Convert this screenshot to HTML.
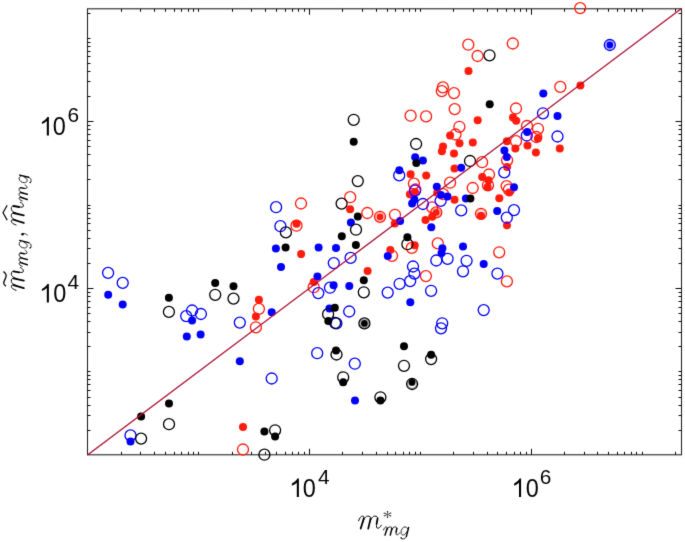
<!DOCTYPE html>
<html><head><meta charset="utf-8">
<style>
html,body{margin:0;padding:0;background:#fff;}
body{width:685px;height:542px;overflow:hidden;}
svg{display:block;}
#wrap{width:685px;height:542px;}
.gl{opacity:0.995;}
.tl{font-family:"Liberation Sans",sans-serif;fill:#000;}
.ml{font-family:"Liberation Serif",serif;font-style:italic;fill:#000;}
</style></head><body>
<div id="wrap">
<svg width="685" height="542" viewBox="0 0 685 542">
<defs><filter id="bl" x="-1%" y="-1%" width="102%" height="102%"><feConvolveMatrix order="3" kernelMatrix="0.0100 0.0800 0.0100 0.0800 0.6400 0.0800 0.0100 0.0800 0.0100" divisor="1" edgeMode="none" preserveAlpha="false"/></filter></defs>
<rect width="685" height="542" fill="#fff"/>
<g filter="url(#bl)">
<g stroke="#262626" stroke-width="1.1" fill="none">
<rect x="87.5" y="8.8" width="594.0" height="446.0"/>
<line x1="121.50" y1="454.8" x2="121.50" y2="451.8" stroke="#111" stroke-width="1"/><line x1="121.50" y1="8.8" x2="121.50" y2="11.8" stroke="#111" stroke-width="1"/><line x1="87.5" y1="430.50" x2="90.5" y2="430.50" stroke="#111" stroke-width="1"/><line x1="681.5" y1="430.50" x2="678.5" y2="430.50" stroke="#111" stroke-width="1"/><line x1="140.50" y1="454.8" x2="140.50" y2="451.8" stroke="#111" stroke-width="1"/><line x1="140.50" y1="8.8" x2="140.50" y2="11.8" stroke="#111" stroke-width="1"/><line x1="87.5" y1="415.50" x2="90.5" y2="415.50" stroke="#111" stroke-width="1"/><line x1="681.5" y1="415.50" x2="678.5" y2="415.50" stroke="#111" stroke-width="1"/><line x1="154.50" y1="454.8" x2="154.50" y2="451.8" stroke="#111" stroke-width="1"/><line x1="154.50" y1="8.8" x2="154.50" y2="11.8" stroke="#111" stroke-width="1"/><line x1="87.5" y1="405.50" x2="90.5" y2="405.50" stroke="#111" stroke-width="1"/><line x1="681.5" y1="405.50" x2="678.5" y2="405.50" stroke="#111" stroke-width="1"/><line x1="165.50" y1="454.8" x2="165.50" y2="451.8" stroke="#111" stroke-width="1"/><line x1="165.50" y1="8.8" x2="165.50" y2="11.8" stroke="#111" stroke-width="1"/><line x1="87.5" y1="397.50" x2="90.5" y2="397.50" stroke="#111" stroke-width="1"/><line x1="681.5" y1="397.50" x2="678.5" y2="397.50" stroke="#111" stroke-width="1"/><line x1="174.50" y1="454.8" x2="174.50" y2="451.8" stroke="#111" stroke-width="1"/><line x1="174.50" y1="8.8" x2="174.50" y2="11.8" stroke="#111" stroke-width="1"/><line x1="87.5" y1="390.50" x2="90.5" y2="390.50" stroke="#111" stroke-width="1"/><line x1="681.5" y1="390.50" x2="678.5" y2="390.50" stroke="#111" stroke-width="1"/><line x1="181.50" y1="454.8" x2="181.50" y2="451.8" stroke="#111" stroke-width="1"/><line x1="181.50" y1="8.8" x2="181.50" y2="11.8" stroke="#111" stroke-width="1"/><line x1="87.5" y1="384.50" x2="90.5" y2="384.50" stroke="#111" stroke-width="1"/><line x1="681.5" y1="384.50" x2="678.5" y2="384.50" stroke="#111" stroke-width="1"/><line x1="188.50" y1="454.8" x2="188.50" y2="451.8" stroke="#111" stroke-width="1"/><line x1="188.50" y1="8.8" x2="188.50" y2="11.8" stroke="#111" stroke-width="1"/><line x1="87.5" y1="379.50" x2="90.5" y2="379.50" stroke="#111" stroke-width="1"/><line x1="681.5" y1="379.50" x2="678.5" y2="379.50" stroke="#111" stroke-width="1"/><line x1="193.50" y1="454.8" x2="193.50" y2="451.8" stroke="#111" stroke-width="1"/><line x1="193.50" y1="8.8" x2="193.50" y2="11.8" stroke="#111" stroke-width="1"/><line x1="87.5" y1="375.50" x2="90.5" y2="375.50" stroke="#111" stroke-width="1"/><line x1="681.5" y1="375.50" x2="678.5" y2="375.50" stroke="#111" stroke-width="1"/><line x1="198.50" y1="454.8" x2="198.50" y2="451.8" stroke="#111" stroke-width="1"/><line x1="198.50" y1="8.8" x2="198.50" y2="11.8" stroke="#111" stroke-width="1"/><line x1="87.5" y1="371.50" x2="90.5" y2="371.50" stroke="#111" stroke-width="1"/><line x1="681.5" y1="371.50" x2="678.5" y2="371.50" stroke="#111" stroke-width="1"/><line x1="232.50" y1="454.8" x2="232.50" y2="451.8" stroke="#111" stroke-width="1"/><line x1="232.50" y1="8.8" x2="232.50" y2="11.8" stroke="#111" stroke-width="1"/><line x1="87.5" y1="346.50" x2="90.5" y2="346.50" stroke="#111" stroke-width="1"/><line x1="681.5" y1="346.50" x2="678.5" y2="346.50" stroke="#111" stroke-width="1"/><line x1="251.50" y1="454.8" x2="251.50" y2="451.8" stroke="#111" stroke-width="1"/><line x1="251.50" y1="8.8" x2="251.50" y2="11.8" stroke="#111" stroke-width="1"/><line x1="87.5" y1="332.50" x2="90.5" y2="332.50" stroke="#111" stroke-width="1"/><line x1="681.5" y1="332.50" x2="678.5" y2="332.50" stroke="#111" stroke-width="1"/><line x1="265.50" y1="454.8" x2="265.50" y2="451.8" stroke="#111" stroke-width="1"/><line x1="265.50" y1="8.8" x2="265.50" y2="11.8" stroke="#111" stroke-width="1"/><line x1="87.5" y1="321.50" x2="90.5" y2="321.50" stroke="#111" stroke-width="1"/><line x1="681.5" y1="321.50" x2="678.5" y2="321.50" stroke="#111" stroke-width="1"/><line x1="276.50" y1="454.8" x2="276.50" y2="451.8" stroke="#111" stroke-width="1"/><line x1="276.50" y1="8.8" x2="276.50" y2="11.8" stroke="#111" stroke-width="1"/><line x1="87.5" y1="313.50" x2="90.5" y2="313.50" stroke="#111" stroke-width="1"/><line x1="681.5" y1="313.50" x2="678.5" y2="313.50" stroke="#111" stroke-width="1"/><line x1="285.50" y1="454.8" x2="285.50" y2="451.8" stroke="#111" stroke-width="1"/><line x1="285.50" y1="8.8" x2="285.50" y2="11.8" stroke="#111" stroke-width="1"/><line x1="87.5" y1="307.50" x2="90.5" y2="307.50" stroke="#111" stroke-width="1"/><line x1="681.5" y1="307.50" x2="678.5" y2="307.50" stroke="#111" stroke-width="1"/><line x1="292.50" y1="454.8" x2="292.50" y2="451.8" stroke="#111" stroke-width="1"/><line x1="292.50" y1="8.8" x2="292.50" y2="11.8" stroke="#111" stroke-width="1"/><line x1="87.5" y1="301.50" x2="90.5" y2="301.50" stroke="#111" stroke-width="1"/><line x1="681.5" y1="301.50" x2="678.5" y2="301.50" stroke="#111" stroke-width="1"/><line x1="298.50" y1="454.8" x2="298.50" y2="451.8" stroke="#111" stroke-width="1"/><line x1="298.50" y1="8.8" x2="298.50" y2="11.8" stroke="#111" stroke-width="1"/><line x1="87.5" y1="296.50" x2="90.5" y2="296.50" stroke="#111" stroke-width="1"/><line x1="681.5" y1="296.50" x2="678.5" y2="296.50" stroke="#111" stroke-width="1"/><line x1="304.50" y1="454.8" x2="304.50" y2="451.8" stroke="#111" stroke-width="1"/><line x1="304.50" y1="8.8" x2="304.50" y2="11.8" stroke="#111" stroke-width="1"/><line x1="87.5" y1="292.50" x2="90.5" y2="292.50" stroke="#111" stroke-width="1"/><line x1="681.5" y1="292.50" x2="678.5" y2="292.50" stroke="#111" stroke-width="1"/><line x1="309.50" y1="454.8" x2="309.50" y2="448.8" stroke="#111" stroke-width="1"/><line x1="309.50" y1="8.8" x2="309.50" y2="14.8" stroke="#111" stroke-width="1"/><line x1="87.5" y1="288.50" x2="93.5" y2="288.50" stroke="#111" stroke-width="1"/><line x1="681.5" y1="288.50" x2="675.5" y2="288.50" stroke="#111" stroke-width="1"/><line x1="342.50" y1="454.8" x2="342.50" y2="451.8" stroke="#111" stroke-width="1"/><line x1="342.50" y1="8.8" x2="342.50" y2="11.8" stroke="#111" stroke-width="1"/><line x1="87.5" y1="263.50" x2="90.5" y2="263.50" stroke="#111" stroke-width="1"/><line x1="681.5" y1="263.50" x2="678.5" y2="263.50" stroke="#111" stroke-width="1"/><line x1="362.50" y1="454.8" x2="362.50" y2="451.8" stroke="#111" stroke-width="1"/><line x1="362.50" y1="8.8" x2="362.50" y2="11.8" stroke="#111" stroke-width="1"/><line x1="87.5" y1="248.50" x2="90.5" y2="248.50" stroke="#111" stroke-width="1"/><line x1="681.5" y1="248.50" x2="678.5" y2="248.50" stroke="#111" stroke-width="1"/><line x1="376.50" y1="454.8" x2="376.50" y2="451.8" stroke="#111" stroke-width="1"/><line x1="376.50" y1="8.8" x2="376.50" y2="11.8" stroke="#111" stroke-width="1"/><line x1="87.5" y1="238.50" x2="90.5" y2="238.50" stroke="#111" stroke-width="1"/><line x1="681.5" y1="238.50" x2="678.5" y2="238.50" stroke="#111" stroke-width="1"/><line x1="387.50" y1="454.8" x2="387.50" y2="451.8" stroke="#111" stroke-width="1"/><line x1="387.50" y1="8.8" x2="387.50" y2="11.8" stroke="#111" stroke-width="1"/><line x1="87.5" y1="230.50" x2="90.5" y2="230.50" stroke="#111" stroke-width="1"/><line x1="681.5" y1="230.50" x2="678.5" y2="230.50" stroke="#111" stroke-width="1"/><line x1="395.50" y1="454.8" x2="395.50" y2="451.8" stroke="#111" stroke-width="1"/><line x1="395.50" y1="8.8" x2="395.50" y2="11.8" stroke="#111" stroke-width="1"/><line x1="87.5" y1="223.50" x2="90.5" y2="223.50" stroke="#111" stroke-width="1"/><line x1="681.5" y1="223.50" x2="678.5" y2="223.50" stroke="#111" stroke-width="1"/><line x1="403.50" y1="454.8" x2="403.50" y2="451.8" stroke="#111" stroke-width="1"/><line x1="403.50" y1="8.8" x2="403.50" y2="11.8" stroke="#111" stroke-width="1"/><line x1="87.5" y1="218.50" x2="90.5" y2="218.50" stroke="#111" stroke-width="1"/><line x1="681.5" y1="218.50" x2="678.5" y2="218.50" stroke="#111" stroke-width="1"/><line x1="409.50" y1="454.8" x2="409.50" y2="451.8" stroke="#111" stroke-width="1"/><line x1="409.50" y1="8.8" x2="409.50" y2="11.8" stroke="#111" stroke-width="1"/><line x1="87.5" y1="213.50" x2="90.5" y2="213.50" stroke="#111" stroke-width="1"/><line x1="681.5" y1="213.50" x2="678.5" y2="213.50" stroke="#111" stroke-width="1"/><line x1="415.50" y1="454.8" x2="415.50" y2="451.8" stroke="#111" stroke-width="1"/><line x1="415.50" y1="8.8" x2="415.50" y2="11.8" stroke="#111" stroke-width="1"/><line x1="87.5" y1="208.50" x2="90.5" y2="208.50" stroke="#111" stroke-width="1"/><line x1="681.5" y1="208.50" x2="678.5" y2="208.50" stroke="#111" stroke-width="1"/><line x1="420.50" y1="454.8" x2="420.50" y2="451.8" stroke="#111" stroke-width="1"/><line x1="420.50" y1="8.8" x2="420.50" y2="11.8" stroke="#111" stroke-width="1"/><line x1="87.5" y1="205.50" x2="90.5" y2="205.50" stroke="#111" stroke-width="1"/><line x1="681.5" y1="205.50" x2="678.5" y2="205.50" stroke="#111" stroke-width="1"/><line x1="453.50" y1="454.8" x2="453.50" y2="451.8" stroke="#111" stroke-width="1"/><line x1="453.50" y1="8.8" x2="453.50" y2="11.8" stroke="#111" stroke-width="1"/><line x1="87.5" y1="179.50" x2="90.5" y2="179.50" stroke="#111" stroke-width="1"/><line x1="681.5" y1="179.50" x2="678.5" y2="179.50" stroke="#111" stroke-width="1"/><line x1="473.50" y1="454.8" x2="473.50" y2="451.8" stroke="#111" stroke-width="1"/><line x1="473.50" y1="8.8" x2="473.50" y2="11.8" stroke="#111" stroke-width="1"/><line x1="87.5" y1="165.50" x2="90.5" y2="165.50" stroke="#111" stroke-width="1"/><line x1="681.5" y1="165.50" x2="678.5" y2="165.50" stroke="#111" stroke-width="1"/><line x1="487.50" y1="454.8" x2="487.50" y2="451.8" stroke="#111" stroke-width="1"/><line x1="487.50" y1="8.8" x2="487.50" y2="11.8" stroke="#111" stroke-width="1"/><line x1="87.5" y1="154.50" x2="90.5" y2="154.50" stroke="#111" stroke-width="1"/><line x1="681.5" y1="154.50" x2="678.5" y2="154.50" stroke="#111" stroke-width="1"/><line x1="497.50" y1="454.8" x2="497.50" y2="451.8" stroke="#111" stroke-width="1"/><line x1="497.50" y1="8.8" x2="497.50" y2="11.8" stroke="#111" stroke-width="1"/><line x1="87.5" y1="146.50" x2="90.5" y2="146.50" stroke="#111" stroke-width="1"/><line x1="681.5" y1="146.50" x2="678.5" y2="146.50" stroke="#111" stroke-width="1"/><line x1="506.50" y1="454.8" x2="506.50" y2="451.8" stroke="#111" stroke-width="1"/><line x1="506.50" y1="8.8" x2="506.50" y2="11.8" stroke="#111" stroke-width="1"/><line x1="87.5" y1="140.50" x2="90.5" y2="140.50" stroke="#111" stroke-width="1"/><line x1="681.5" y1="140.50" x2="678.5" y2="140.50" stroke="#111" stroke-width="1"/><line x1="514.50" y1="454.8" x2="514.50" y2="451.8" stroke="#111" stroke-width="1"/><line x1="514.50" y1="8.8" x2="514.50" y2="11.8" stroke="#111" stroke-width="1"/><line x1="87.5" y1="134.50" x2="90.5" y2="134.50" stroke="#111" stroke-width="1"/><line x1="681.5" y1="134.50" x2="678.5" y2="134.50" stroke="#111" stroke-width="1"/><line x1="520.50" y1="454.8" x2="520.50" y2="451.8" stroke="#111" stroke-width="1"/><line x1="520.50" y1="8.8" x2="520.50" y2="11.8" stroke="#111" stroke-width="1"/><line x1="87.5" y1="129.50" x2="90.5" y2="129.50" stroke="#111" stroke-width="1"/><line x1="681.5" y1="129.50" x2="678.5" y2="129.50" stroke="#111" stroke-width="1"/><line x1="526.50" y1="454.8" x2="526.50" y2="451.8" stroke="#111" stroke-width="1"/><line x1="526.50" y1="8.8" x2="526.50" y2="11.8" stroke="#111" stroke-width="1"/><line x1="87.5" y1="125.50" x2="90.5" y2="125.50" stroke="#111" stroke-width="1"/><line x1="681.5" y1="125.50" x2="678.5" y2="125.50" stroke="#111" stroke-width="1"/><line x1="531.50" y1="454.8" x2="531.50" y2="448.8" stroke="#111" stroke-width="1"/><line x1="531.50" y1="8.8" x2="531.50" y2="14.8" stroke="#111" stroke-width="1"/><line x1="87.5" y1="121.50" x2="93.5" y2="121.50" stroke="#111" stroke-width="1"/><line x1="681.5" y1="121.50" x2="675.5" y2="121.50" stroke="#111" stroke-width="1"/><line x1="564.50" y1="454.8" x2="564.50" y2="451.8" stroke="#111" stroke-width="1"/><line x1="564.50" y1="8.8" x2="564.50" y2="11.8" stroke="#111" stroke-width="1"/><line x1="87.5" y1="96.50" x2="90.5" y2="96.50" stroke="#111" stroke-width="1"/><line x1="681.5" y1="96.50" x2="678.5" y2="96.50" stroke="#111" stroke-width="1"/><line x1="584.50" y1="454.8" x2="584.50" y2="451.8" stroke="#111" stroke-width="1"/><line x1="584.50" y1="8.8" x2="584.50" y2="11.8" stroke="#111" stroke-width="1"/><line x1="87.5" y1="81.50" x2="90.5" y2="81.50" stroke="#111" stroke-width="1"/><line x1="681.5" y1="81.50" x2="678.5" y2="81.50" stroke="#111" stroke-width="1"/><line x1="597.50" y1="454.8" x2="597.50" y2="451.8" stroke="#111" stroke-width="1"/><line x1="597.50" y1="8.8" x2="597.50" y2="11.8" stroke="#111" stroke-width="1"/><line x1="87.5" y1="71.50" x2="90.5" y2="71.50" stroke="#111" stroke-width="1"/><line x1="681.5" y1="71.50" x2="678.5" y2="71.50" stroke="#111" stroke-width="1"/><line x1="608.50" y1="454.8" x2="608.50" y2="451.8" stroke="#111" stroke-width="1"/><line x1="608.50" y1="8.8" x2="608.50" y2="11.8" stroke="#111" stroke-width="1"/><line x1="87.5" y1="63.50" x2="90.5" y2="63.50" stroke="#111" stroke-width="1"/><line x1="681.5" y1="63.50" x2="678.5" y2="63.50" stroke="#111" stroke-width="1"/><line x1="617.50" y1="454.8" x2="617.50" y2="451.8" stroke="#111" stroke-width="1"/><line x1="617.50" y1="8.8" x2="617.50" y2="11.8" stroke="#111" stroke-width="1"/><line x1="87.5" y1="56.50" x2="90.5" y2="56.50" stroke="#111" stroke-width="1"/><line x1="681.5" y1="56.50" x2="678.5" y2="56.50" stroke="#111" stroke-width="1"/><line x1="624.50" y1="454.8" x2="624.50" y2="451.8" stroke="#111" stroke-width="1"/><line x1="624.50" y1="8.8" x2="624.50" y2="11.8" stroke="#111" stroke-width="1"/><line x1="87.5" y1="51.50" x2="90.5" y2="51.50" stroke="#111" stroke-width="1"/><line x1="681.5" y1="51.50" x2="678.5" y2="51.50" stroke="#111" stroke-width="1"/><line x1="631.50" y1="454.8" x2="631.50" y2="451.8" stroke="#111" stroke-width="1"/><line x1="631.50" y1="8.8" x2="631.50" y2="11.8" stroke="#111" stroke-width="1"/><line x1="87.5" y1="46.50" x2="90.5" y2="46.50" stroke="#111" stroke-width="1"/><line x1="681.5" y1="46.50" x2="678.5" y2="46.50" stroke="#111" stroke-width="1"/><line x1="636.50" y1="454.8" x2="636.50" y2="451.8" stroke="#111" stroke-width="1"/><line x1="636.50" y1="8.8" x2="636.50" y2="11.8" stroke="#111" stroke-width="1"/><line x1="87.5" y1="42.50" x2="90.5" y2="42.50" stroke="#111" stroke-width="1"/><line x1="681.5" y1="42.50" x2="678.5" y2="42.50" stroke="#111" stroke-width="1"/><line x1="642.50" y1="454.8" x2="642.50" y2="451.8" stroke="#111" stroke-width="1"/><line x1="642.50" y1="8.8" x2="642.50" y2="11.8" stroke="#111" stroke-width="1"/><line x1="87.5" y1="38.50" x2="90.5" y2="38.50" stroke="#111" stroke-width="1"/><line x1="681.5" y1="38.50" x2="678.5" y2="38.50" stroke="#111" stroke-width="1"/><line x1="675.50" y1="454.8" x2="675.50" y2="451.8" stroke="#111" stroke-width="1"/><line x1="675.50" y1="8.8" x2="675.50" y2="11.8" stroke="#111" stroke-width="1"/><line x1="87.5" y1="13.50" x2="90.5" y2="13.50" stroke="#111" stroke-width="1"/><line x1="681.5" y1="13.50" x2="678.5" y2="13.50" stroke="#111" stroke-width="1"/>
</g>
<g>
<circle cx="468.3" cy="44.7" r="5.5" fill="none" stroke="#ff1a0a" stroke-width="1.3"/>
<circle cx="477.6" cy="56.0" r="5.5" fill="none" stroke="#ff1a0a" stroke-width="1.3"/>
<circle cx="580.2" cy="8.1" r="5.5" fill="none" stroke="#ff1a0a" stroke-width="1.3"/>
<circle cx="512.8" cy="43.5" r="5.5" fill="none" stroke="#ff1a0a" stroke-width="1.3"/>
<circle cx="442.9" cy="87.4" r="5.5" fill="none" stroke="#ff1a0a" stroke-width="1.3"/>
<circle cx="441.8" cy="91.1" r="5.5" fill="none" stroke="#ff1a0a" stroke-width="1.3"/>
<circle cx="454.0" cy="93.1" r="5.5" fill="none" stroke="#ff1a0a" stroke-width="1.3"/>
<circle cx="454.7" cy="109.1" r="5.5" fill="none" stroke="#ff1a0a" stroke-width="1.3"/>
<circle cx="410.6" cy="115.7" r="5.5" fill="none" stroke="#ff1a0a" stroke-width="1.3"/>
<circle cx="426.1" cy="116.4" r="5.5" fill="none" stroke="#ff1a0a" stroke-width="1.3"/>
<circle cx="459.4" cy="126.8" r="5.5" fill="none" stroke="#ff1a0a" stroke-width="1.3"/>
<circle cx="455.5" cy="134.5" r="5.5" fill="none" stroke="#ff1a0a" stroke-width="1.3"/>
<circle cx="560.3" cy="86.9" r="5.5" fill="none" stroke="#ff1a0a" stroke-width="1.3"/>
<circle cx="516.0" cy="108.5" r="5.5" fill="none" stroke="#ff1a0a" stroke-width="1.3"/>
<circle cx="527.0" cy="126.0" r="5.5" fill="none" stroke="#ff1a0a" stroke-width="1.3"/>
<circle cx="538.0" cy="128.8" r="5.5" fill="none" stroke="#ff1a0a" stroke-width="1.3"/>
<circle cx="536.3" cy="137.0" r="5.5" fill="none" stroke="#ff1a0a" stroke-width="1.3"/>
<circle cx="516.0" cy="141.2" r="5.5" fill="none" stroke="#ff1a0a" stroke-width="1.3"/>
<circle cx="482.1" cy="162.2" r="5.5" fill="none" stroke="#ff1a0a" stroke-width="1.3"/>
<circle cx="413.9" cy="183.6" r="5.5" fill="none" stroke="#ff1a0a" stroke-width="1.3"/>
<circle cx="415.4" cy="189.5" r="5.5" fill="none" stroke="#ff1a0a" stroke-width="1.3"/>
<circle cx="450.1" cy="182.7" r="5.5" fill="none" stroke="#ff1a0a" stroke-width="1.3"/>
<circle cx="443.1" cy="194.2" r="5.5" fill="none" stroke="#ff1a0a" stroke-width="1.3"/>
<circle cx="472.7" cy="188.0" r="5.5" fill="none" stroke="#ff1a0a" stroke-width="1.3"/>
<circle cx="432.2" cy="207.4" r="5.5" fill="none" stroke="#ff1a0a" stroke-width="1.3"/>
<circle cx="507.1" cy="160.3" r="5.5" fill="none" stroke="#ff1a0a" stroke-width="1.3"/>
<circle cx="489.0" cy="174.5" r="5.5" fill="none" stroke="#ff1a0a" stroke-width="1.3"/>
<circle cx="488.0" cy="185.3" r="5.5" fill="none" stroke="#ff1a0a" stroke-width="1.3"/>
<circle cx="506.6" cy="186.1" r="5.5" fill="none" stroke="#ff1a0a" stroke-width="1.3"/>
<circle cx="508.9" cy="189.6" r="5.5" fill="none" stroke="#ff1a0a" stroke-width="1.3"/>
<circle cx="481.0" cy="213.8" r="5.5" fill="none" stroke="#ff1a0a" stroke-width="1.3"/>
<circle cx="481.0" cy="213.8" r="4.3" fill="none" stroke="#ff1a0a" stroke-width="0.6" stroke-opacity="0.7"/>
<circle cx="350.2" cy="197.2" r="5.5" fill="none" stroke="#ff1a0a" stroke-width="1.3"/>
<circle cx="367.3" cy="213.0" r="5.5" fill="none" stroke="#ff1a0a" stroke-width="1.3"/>
<circle cx="301.0" cy="203.5" r="5.5" fill="none" stroke="#ff1a0a" stroke-width="1.3"/>
<circle cx="296.5" cy="225.7" r="5.5" fill="none" stroke="#ff1a0a" stroke-width="1.3"/>
<circle cx="395.0" cy="214.8" r="5.5" fill="none" stroke="#ff1a0a" stroke-width="1.3"/>
<circle cx="258.9" cy="308.9" r="5.5" fill="none" stroke="#ff1a0a" stroke-width="1.3"/>
<circle cx="255.9" cy="327.3" r="5.5" fill="none" stroke="#ff1a0a" stroke-width="1.3"/>
<circle cx="313.7" cy="287.2" r="5.5" fill="none" stroke="#ff1a0a" stroke-width="1.3"/>
<circle cx="392.0" cy="255.8" r="5.5" fill="none" stroke="#ff1a0a" stroke-width="1.3"/>
<circle cx="411.8" cy="247.9" r="5.5" fill="none" stroke="#ff1a0a" stroke-width="1.3"/>
<circle cx="437.8" cy="243.4" r="5.5" fill="none" stroke="#ff1a0a" stroke-width="1.3"/>
<circle cx="425.9" cy="276.1" r="5.5" fill="none" stroke="#ff1a0a" stroke-width="1.3"/>
<circle cx="499.2" cy="252.3" r="5.5" fill="none" stroke="#ff1a0a" stroke-width="1.3"/>
<circle cx="506.9" cy="281.4" r="5.5" fill="none" stroke="#ff1a0a" stroke-width="1.3"/>
<circle cx="243.0" cy="449.5" r="5.5" fill="none" stroke="#ff1a0a" stroke-width="1.3"/>
<circle cx="468.5" cy="71.1" r="4.0" fill="#ff1a0a"/>
<circle cx="477.7" cy="120.3" r="4.0" fill="#ff1a0a"/>
<circle cx="450.1" cy="135.4" r="4.0" fill="#ff1a0a"/>
<circle cx="459.5" cy="143.3" r="4.0" fill="#ff1a0a"/>
<circle cx="472.8" cy="142.5" r="4.0" fill="#ff1a0a"/>
<circle cx="443.0" cy="146.5" r="4.0" fill="#ff1a0a"/>
<circle cx="441.9" cy="151.3" r="4.0" fill="#ff1a0a"/>
<circle cx="454.0" cy="153.6" r="4.0" fill="#ff1a0a"/>
<circle cx="580.4" cy="85.6" r="4.0" fill="#ff1a0a"/>
<circle cx="513.0" cy="117.4" r="4.0" fill="#ff1a0a"/>
<circle cx="516.2" cy="120.7" r="4.0" fill="#ff1a0a"/>
<circle cx="537.9" cy="138.4" r="4.0" fill="#ff1a0a"/>
<circle cx="506.9" cy="141.2" r="4.0" fill="#ff1a0a"/>
<circle cx="515.4" cy="148.6" r="4.0" fill="#ff1a0a"/>
<circle cx="527.5" cy="145.5" r="4.0" fill="#ff1a0a"/>
<circle cx="535.9" cy="152.6" r="4.0" fill="#ff1a0a"/>
<circle cx="559.8" cy="148.4" r="4.0" fill="#ff1a0a"/>
<circle cx="410.6" cy="174.2" r="4.0" fill="#ff1a0a"/>
<circle cx="426.2" cy="175.4" r="4.0" fill="#ff1a0a"/>
<circle cx="454.5" cy="168.4" r="4.0" fill="#ff1a0a"/>
<circle cx="415.0" cy="192.1" r="4.0" fill="#ff1a0a"/>
<circle cx="409.9" cy="194.3" r="4.0" fill="#ff1a0a"/>
<circle cx="437.2" cy="192.7" r="4.0" fill="#ff1a0a"/>
<circle cx="454.5" cy="199.7" r="4.0" fill="#ff1a0a"/>
<circle cx="436.3" cy="212.4" r="5.5" fill="none" stroke="#ff1a0a" stroke-width="1.3"/><circle cx="436.3" cy="212.4" r="4.3" fill="none" stroke="#ff1a0a" stroke-width="0.6" stroke-opacity="0.7"/><circle cx="436.3" cy="212.4" r="3.4" fill="#ff1a0a"/>
<circle cx="432.2" cy="216.8" r="4.0" fill="#ff1a0a"/>
<circle cx="425.5" cy="220.1" r="4.0" fill="#ff1a0a"/>
<circle cx="507.1" cy="166.9" r="4.0" fill="#ff1a0a"/>
<circle cx="482.2" cy="177.0" r="4.0" fill="#ff1a0a"/>
<circle cx="488.6" cy="180.3" r="4.0" fill="#ff1a0a"/>
<circle cx="487.6" cy="187.0" r="4.0" fill="#ff1a0a"/>
<circle cx="509.3" cy="192.6" r="4.0" fill="#ff1a0a"/>
<circle cx="499.3" cy="198.2" r="4.0" fill="#ff1a0a"/>
<circle cx="507.0" cy="225.2" r="4.0" fill="#ff1a0a"/>
<circle cx="481.0" cy="215.7" r="4.0" fill="#ff1a0a"/>
<circle cx="350.1" cy="209.2" r="4.0" fill="#ff1a0a"/>
<circle cx="380.0" cy="216.8" r="5.5" fill="none" stroke="#ff1a0a" stroke-width="1.3"/><circle cx="380.0" cy="216.8" r="4.3" fill="none" stroke="#ff1a0a" stroke-width="0.6" stroke-opacity="0.7"/><circle cx="380.0" cy="216.8" r="3.4" fill="#ff1a0a"/>
<circle cx="296.5" cy="223.8" r="4.0" fill="#ff1a0a"/>
<circle cx="394.8" cy="223.6" r="4.0" fill="#ff1a0a"/>
<circle cx="258.9" cy="299.8" r="4.0" fill="#ff1a0a"/>
<circle cx="255.9" cy="316.4" r="4.0" fill="#ff1a0a"/>
<circle cx="301.1" cy="254.1" r="4.0" fill="#ff1a0a"/>
<circle cx="367.6" cy="271.1" r="4.0" fill="#ff1a0a"/>
<circle cx="313.7" cy="281.9" r="4.0" fill="#ff1a0a"/>
<circle cx="390.3" cy="250.0" r="4.0" fill="#ff1a0a"/>
<circle cx="414.7" cy="245.2" r="4.0" fill="#ff1a0a"/>
<circle cx="243.0" cy="427.1" r="4.0" fill="#ff1a0a"/>
<circle cx="543.0" cy="113.3" r="5.5" fill="none" stroke="#0000fa" stroke-width="1.3"/>
<circle cx="526.8" cy="135.5" r="5.5" fill="none" stroke="#0000fa" stroke-width="1.3"/>
<circle cx="557.5" cy="136.5" r="5.5" fill="none" stroke="#0000fa" stroke-width="1.3"/>
<circle cx="399.2" cy="175.4" r="5.5" fill="none" stroke="#0000fa" stroke-width="1.3"/>
<circle cx="415.0" cy="190.6" r="5.5" fill="none" stroke="#0000fa" stroke-width="1.3"/>
<circle cx="422.9" cy="204.0" r="5.5" fill="none" stroke="#0000fa" stroke-width="1.3"/>
<circle cx="440.6" cy="200.9" r="5.5" fill="none" stroke="#0000fa" stroke-width="1.3"/>
<circle cx="461.2" cy="210.4" r="5.5" fill="none" stroke="#0000fa" stroke-width="1.3"/>
<circle cx="504.3" cy="172.4" r="5.5" fill="none" stroke="#0000fa" stroke-width="1.3"/>
<circle cx="514.0" cy="210.1" r="5.5" fill="none" stroke="#0000fa" stroke-width="1.3"/>
<circle cx="506.8" cy="217.7" r="5.5" fill="none" stroke="#0000fa" stroke-width="1.3"/>
<circle cx="276.1" cy="207.2" r="5.5" fill="none" stroke="#0000fa" stroke-width="1.3"/>
<circle cx="280.4" cy="226.2" r="5.5" fill="none" stroke="#0000fa" stroke-width="1.3"/>
<circle cx="108.1" cy="272.9" r="5.5" fill="none" stroke="#0000fa" stroke-width="1.3"/>
<circle cx="122.7" cy="282.9" r="5.5" fill="none" stroke="#0000fa" stroke-width="1.3"/>
<circle cx="192.1" cy="310.5" r="5.5" fill="none" stroke="#0000fa" stroke-width="1.3"/>
<circle cx="200.9" cy="314.0" r="5.5" fill="none" stroke="#0000fa" stroke-width="1.3"/>
<circle cx="186.2" cy="316.1" r="5.5" fill="none" stroke="#0000fa" stroke-width="1.3"/>
<circle cx="239.8" cy="322.6" r="5.5" fill="none" stroke="#0000fa" stroke-width="1.3"/>
<circle cx="333.8" cy="263.1" r="5.5" fill="none" stroke="#0000fa" stroke-width="1.3"/>
<circle cx="350.6" cy="257.9" r="5.5" fill="none" stroke="#0000fa" stroke-width="1.3"/>
<circle cx="318.3" cy="293.1" r="5.5" fill="none" stroke="#0000fa" stroke-width="1.3"/>
<circle cx="330.0" cy="287.7" r="5.5" fill="none" stroke="#0000fa" stroke-width="1.3"/>
<circle cx="387.7" cy="292.6" r="5.5" fill="none" stroke="#0000fa" stroke-width="1.3"/>
<circle cx="336.4" cy="323.4" r="5.5" fill="none" stroke="#0000fa" stroke-width="1.3"/>
<circle cx="349.2" cy="311.5" r="5.5" fill="none" stroke="#0000fa" stroke-width="1.3"/>
<circle cx="436.3" cy="260.5" r="5.5" fill="none" stroke="#0000fa" stroke-width="1.3"/>
<circle cx="447.6" cy="258.8" r="5.5" fill="none" stroke="#0000fa" stroke-width="1.3"/>
<circle cx="466.6" cy="260.8" r="5.5" fill="none" stroke="#0000fa" stroke-width="1.3"/>
<circle cx="463.0" cy="271.3" r="5.5" fill="none" stroke="#0000fa" stroke-width="1.3"/>
<circle cx="413.0" cy="266.5" r="5.5" fill="none" stroke="#0000fa" stroke-width="1.3"/>
<circle cx="414.4" cy="273.6" r="5.5" fill="none" stroke="#0000fa" stroke-width="1.3"/>
<circle cx="410.2" cy="281.1" r="5.5" fill="none" stroke="#0000fa" stroke-width="1.3"/>
<circle cx="399.6" cy="283.8" r="5.5" fill="none" stroke="#0000fa" stroke-width="1.3"/>
<circle cx="431.1" cy="290.8" r="5.5" fill="none" stroke="#0000fa" stroke-width="1.3"/>
<circle cx="483.7" cy="310.1" r="5.5" fill="none" stroke="#0000fa" stroke-width="1.3"/>
<circle cx="497.4" cy="273.6" r="5.5" fill="none" stroke="#0000fa" stroke-width="1.3"/>
<circle cx="442.2" cy="323.3" r="5.5" fill="none" stroke="#0000fa" stroke-width="1.3"/>
<circle cx="441.0" cy="328.3" r="5.5" fill="none" stroke="#0000fa" stroke-width="1.3"/>
<circle cx="271.7" cy="378.5" r="5.5" fill="none" stroke="#0000fa" stroke-width="1.3"/>
<circle cx="317.2" cy="353.2" r="5.5" fill="none" stroke="#0000fa" stroke-width="1.3"/>
<circle cx="354.8" cy="363.7" r="5.5" fill="none" stroke="#0000fa" stroke-width="1.3"/>
<circle cx="130.5" cy="435.4" r="5.5" fill="none" stroke="#0000fa" stroke-width="1.3"/>
<circle cx="609.8" cy="45.0" r="5.5" fill="none" stroke="#0000fa" stroke-width="1.3"/><circle cx="609.8" cy="45.0" r="4.3" fill="none" stroke="#0000fa" stroke-width="0.6" stroke-opacity="0.7"/><circle cx="609.8" cy="45.0" r="3.4" fill="#0000fa"/>
<circle cx="415.2" cy="157.3" r="4.0" fill="#0000fa"/>
<circle cx="543.3" cy="93.6" r="4.0" fill="#0000fa"/>
<circle cx="557.5" cy="116.1" r="4.0" fill="#0000fa"/>
<circle cx="527.2" cy="131.9" r="4.0" fill="#0000fa"/>
<circle cx="504.4" cy="150.6" r="4.0" fill="#0000fa"/>
<circle cx="506.8" cy="157.1" r="4.0" fill="#0000fa"/>
<circle cx="422.9" cy="160.6" r="4.0" fill="#0000fa"/>
<circle cx="399.3" cy="170.2" r="4.0" fill="#0000fa"/>
<circle cx="461.2" cy="167.7" r="4.0" fill="#0000fa"/>
<circle cx="414.3" cy="199.5" r="4.0" fill="#0000fa"/>
<circle cx="412.1" cy="203.6" r="4.0" fill="#0000fa"/>
<circle cx="436.8" cy="186.8" r="4.0" fill="#0000fa"/>
<circle cx="440.9" cy="194.9" r="4.0" fill="#0000fa"/>
<circle cx="447.5" cy="196.4" r="4.0" fill="#0000fa"/>
<circle cx="465.9" cy="198.6" r="4.0" fill="#0000fa"/>
<circle cx="431.3" cy="227.3" r="4.0" fill="#0000fa"/>
<circle cx="514.0" cy="187.2" r="4.0" fill="#0000fa"/>
<circle cx="497.2" cy="211.0" r="4.0" fill="#0000fa"/>
<circle cx="350.9" cy="222.6" r="4.0" fill="#0000fa"/>
<circle cx="400.1" cy="220.9" r="4.0" fill="#0000fa"/>
<circle cx="108.2" cy="294.7" r="4.0" fill="#0000fa"/>
<circle cx="122.7" cy="304.5" r="4.0" fill="#0000fa"/>
<circle cx="192.1" cy="320.5" r="4.0" fill="#0000fa"/>
<circle cx="275.9" cy="248.6" r="4.0" fill="#0000fa"/>
<circle cx="281.0" cy="266.9" r="4.0" fill="#0000fa"/>
<circle cx="271.7" cy="312.3" r="4.0" fill="#0000fa"/>
<circle cx="318.6" cy="247.5" r="4.0" fill="#0000fa"/>
<circle cx="336.0" cy="248.0" r="4.0" fill="#0000fa"/>
<circle cx="317.4" cy="276.6" r="4.0" fill="#0000fa"/>
<circle cx="333.6" cy="285.2" r="4.0" fill="#0000fa"/>
<circle cx="349.3" cy="286.0" r="4.0" fill="#0000fa"/>
<circle cx="329.4" cy="308.6" r="4.0" fill="#0000fa"/>
<circle cx="387.8" cy="256.1" r="4.0" fill="#0000fa"/>
<circle cx="442.4" cy="248.2" r="4.0" fill="#0000fa"/>
<circle cx="441.5" cy="253.1" r="4.0" fill="#0000fa"/>
<circle cx="463.0" cy="246.6" r="4.0" fill="#0000fa"/>
<circle cx="483.7" cy="264.1" r="4.0" fill="#0000fa"/>
<circle cx="410.3" cy="302.3" r="4.0" fill="#0000fa"/>
<circle cx="186.8" cy="336.6" r="4.0" fill="#0000fa"/>
<circle cx="200.6" cy="334.6" r="4.0" fill="#0000fa"/>
<circle cx="239.8" cy="361.2" r="4.0" fill="#0000fa"/>
<circle cx="355.0" cy="400.5" r="4.0" fill="#0000fa"/>
<circle cx="130.5" cy="441.5" r="4.0" fill="#0000fa"/>
<circle cx="489.5" cy="55.3" r="5.5" fill="none" stroke="#000000" stroke-width="1.3"/>
<circle cx="353.7" cy="119.8" r="5.5" fill="none" stroke="#000000" stroke-width="1.3"/>
<circle cx="416.1" cy="144.0" r="5.5" fill="none" stroke="#000000" stroke-width="1.3"/>
<circle cx="470.0" cy="161.0" r="5.5" fill="none" stroke="#000000" stroke-width="1.3"/>
<circle cx="285.9" cy="232.4" r="5.5" fill="none" stroke="#000000" stroke-width="1.3"/>
<circle cx="357.8" cy="181.1" r="5.5" fill="none" stroke="#000000" stroke-width="1.3"/>
<circle cx="341.6" cy="203.6" r="5.5" fill="none" stroke="#000000" stroke-width="1.3"/>
<circle cx="356.0" cy="229.7" r="5.5" fill="none" stroke="#000000" stroke-width="1.3"/>
<circle cx="168.9" cy="311.9" r="5.5" fill="none" stroke="#000000" stroke-width="1.3"/>
<circle cx="215.2" cy="294.8" r="5.5" fill="none" stroke="#000000" stroke-width="1.3"/>
<circle cx="233.5" cy="298.6" r="5.5" fill="none" stroke="#000000" stroke-width="1.3"/>
<circle cx="363.8" cy="292.3" r="5.5" fill="none" stroke="#000000" stroke-width="1.3"/>
<circle cx="328.1" cy="314.2" r="5.5" fill="none" stroke="#000000" stroke-width="1.3"/>
<circle cx="335.1" cy="323.0" r="5.5" fill="none" stroke="#000000" stroke-width="1.3"/>
<circle cx="407.4" cy="244.2" r="5.5" fill="none" stroke="#000000" stroke-width="1.3"/>
<circle cx="336.5" cy="354.5" r="5.5" fill="none" stroke="#000000" stroke-width="1.3"/>
<circle cx="343.2" cy="377.3" r="5.5" fill="none" stroke="#000000" stroke-width="1.3"/>
<circle cx="380.4" cy="397.3" r="5.5" fill="none" stroke="#000000" stroke-width="1.3"/>
<circle cx="404.0" cy="365.8" r="5.5" fill="none" stroke="#000000" stroke-width="1.3"/>
<circle cx="431.1" cy="359.1" r="5.5" fill="none" stroke="#000000" stroke-width="1.3"/>
<circle cx="412.1" cy="384.0" r="5.5" fill="none" stroke="#000000" stroke-width="1.3"/>
<circle cx="412.1" cy="384.0" r="4.3" fill="none" stroke="#000000" stroke-width="0.6" stroke-opacity="0.7"/>
<circle cx="169.0" cy="424.2" r="5.5" fill="none" stroke="#000000" stroke-width="1.3"/>
<circle cx="141.1" cy="438.6" r="5.5" fill="none" stroke="#000000" stroke-width="1.3"/>
<circle cx="275.1" cy="430.3" r="5.5" fill="none" stroke="#000000" stroke-width="1.3"/>
<circle cx="264.4" cy="454.7" r="5.5" fill="none" stroke="#000000" stroke-width="1.3"/>
<circle cx="353.7" cy="141.7" r="4.0" fill="#000000"/>
<circle cx="489.7" cy="104.3" r="4.0" fill="#000000"/>
<circle cx="416.3" cy="162.9" r="4.0" fill="#000000"/>
<circle cx="470.4" cy="198.6" r="4.0" fill="#000000"/>
<circle cx="357.8" cy="216.6" r="4.0" fill="#000000"/>
<circle cx="341.8" cy="236.3" r="4.0" fill="#000000"/>
<circle cx="168.9" cy="297.8" r="4.0" fill="#000000"/>
<circle cx="285.6" cy="247.5" r="4.0" fill="#000000"/>
<circle cx="215.2" cy="282.9" r="4.0" fill="#000000"/>
<circle cx="233.5" cy="286.2" r="4.0" fill="#000000"/>
<circle cx="355.9" cy="245.0" r="4.0" fill="#000000"/>
<circle cx="363.8" cy="280.2" r="4.0" fill="#000000"/>
<circle cx="334.8" cy="307.7" r="4.0" fill="#000000"/>
<circle cx="328.3" cy="320.9" r="4.0" fill="#000000"/>
<circle cx="364.4" cy="323.4" r="5.5" fill="none" stroke="#000000" stroke-width="1.3"/><circle cx="364.4" cy="323.4" r="4.3" fill="none" stroke="#000000" stroke-width="0.6" stroke-opacity="0.7"/><circle cx="364.4" cy="323.4" r="3.4" fill="#000000"/>
<circle cx="407.4" cy="237.3" r="4.0" fill="#000000"/>
<circle cx="336.0" cy="350.4" r="4.0" fill="#000000"/>
<circle cx="343.2" cy="382.3" r="4.0" fill="#000000"/>
<circle cx="380.4" cy="400.6" r="4.0" fill="#000000"/>
<circle cx="404.0" cy="346.3" r="4.0" fill="#000000"/>
<circle cx="431.1" cy="354.8" r="4.0" fill="#000000"/>
<circle cx="412.0" cy="382.4" r="3.4" fill="#000000"/>
<circle cx="169.0" cy="403.5" r="4.0" fill="#000000"/>
<circle cx="141.1" cy="416.6" r="4.0" fill="#000000"/>
<circle cx="264.4" cy="431.4" r="4.0" fill="#000000"/>
<circle cx="275.1" cy="436.5" r="4.0" fill="#000000"/>
<line x1="87.5" y1="455.1" x2="681.5" y2="8.4" stroke="#a80a30" stroke-width="1.3"/>
</g>
<g class="gl">
<path d="M48.90,135.40 L48.90,117.00 L47.40,117.00 C46.60,118.80 44.80,120.50 41.90,121.90 L41.90,124.10 C43.80,123.40 45.50,122.40 46.80,121.10 L46.80,135.40 Z" fill="#000"/><text transform="translate(52.86,135.40) scale(0.92,1)" font-family="Liberation Sans" font-size="25.5">0</text><text x="67.46" y="121.80" font-family="Liberation Sans" font-size="20.8">6</text>
<path d="M48.90,302.40 L48.90,284.00 L47.40,284.00 C46.60,285.80 44.80,287.50 41.90,288.90 L41.90,291.10 C43.80,290.40 45.50,289.40 46.80,288.10 L46.80,302.40 Z" fill="#000"/><text transform="translate(53.36,302.40) scale(0.92,1)" font-family="Liberation Sans" font-size="25.5">0</text><text x="67.58" y="289.00" font-family="Liberation Sans" font-size="20.8">4</text>
<path d="M298.90,497.00 L298.90,478.60 L297.40,478.60 C296.60,480.40 294.80,482.10 291.90,483.50 L291.90,485.70 C293.80,485.00 295.50,484.00 296.80,482.70 L296.80,497.00 Z" fill="#000"/><text transform="translate(302.86,497.00) scale(0.92,1)" font-family="Liberation Sans" font-size="25.5">0</text><text x="317.88" y="484.30" font-family="Liberation Sans" font-size="20.8">4</text>
<path d="M521.10,497.00 L521.10,478.60 L519.60,478.60 C518.80,480.40 517.00,482.10 514.10,483.50 L514.10,485.70 C516.00,485.00 517.70,484.00 519.00,482.70 L519.00,497.00 Z" fill="#000"/><text transform="translate(525.76,497.00) scale(0.92,1)" font-family="Liberation Sans" font-size="25.5">0</text><text x="539.86" y="484.40" font-family="Liberation Sans" font-size="20.8">6</text>
<g transform="translate(358.60,528.60) scale(12.500,12.500)" fill="none" stroke="#000" stroke-linecap="round" stroke-linejoin="round"><path d="M0.0,-0.62 C0.08,-0.86 0.19,-1.0 0.31,-1.0 C0.41,-1.0 0.44,-0.93 0.42,-0.82 M0.35,-0.52 C0.45,-0.82 0.57,-1.0 0.73,-1.0 C0.91,-1.0 0.97,-0.93 0.96,-0.82 M0.91,-0.52 C1.01,-0.82 1.13,-1.0 1.29,-1.0 C1.47,-1.0 1.53,-0.93 1.52,-0.82 M1.44,-0.38 C1.41,-0.16 1.43,-0.03 1.53,-0.03 C1.64,-0.03 1.75,-0.12 1.82,-0.27" stroke-width="0.0800"/><path d="M0.42,-0.82 L0.17,0 M0.96,-0.82 L0.77,0 M1.52,-0.82 L1.44,-0.38" stroke-width="0.1440"/></g>
<text transform="translate(382.60,523.50) scale(1.05,1)" font-family="Liberation Serif" font-size="19.0" stroke="#fff" stroke-width="0.2">*</text>
<g transform="translate(383.50,535.10) scale(8.774,8.200)" fill="none" stroke="#000" stroke-linecap="round" stroke-linejoin="round"><path d="M0.0,-0.62 C0.08,-0.86 0.19,-1.0 0.31,-1.0 C0.41,-1.0 0.44,-0.93 0.42,-0.82 M0.35,-0.52 C0.45,-0.82 0.57,-1.0 0.73,-1.0 C0.91,-1.0 0.97,-0.93 0.96,-0.82 M0.91,-0.52 C1.01,-0.82 1.13,-1.0 1.29,-1.0 C1.47,-1.0 1.53,-0.93 1.52,-0.82 M1.44,-0.38 C1.41,-0.16 1.43,-0.03 1.53,-0.03 C1.64,-0.03 1.75,-0.12 1.82,-0.27" stroke-width="0.1037"/><path d="M0.42,-0.82 L0.17,0 M0.96,-0.82 L0.77,0 M1.52,-0.82 L1.44,-0.38" stroke-width="0.1707"/></g>
<g transform="translate(400.50,535.10) scale(8.200,8.200)" fill="none" stroke="#000" stroke-linecap="round" stroke-linejoin="round"><path d="M0.86,-0.78 C0.80,-0.94 0.68,-1.0 0.56,-1.0 C0.30,-1.0 0.06,-0.68 0.06,-0.36 C0.06,-0.13 0.18,-0.01 0.34,-0.01 C0.52,-0.01 0.68,-0.2 0.77,-0.42 M0.72,0.15 C0.66,0.36 0.50,0.47 0.30,0.47 C0.18,0.47 0.10,0.44 0.06,0.38" stroke-width="0.1037"/><path d="M0.99,-0.93 L0.72,0.15" stroke-width="0.1707"/><circle cx="0.09" cy="0.36" r="0.10" fill="#000" stroke="none"/></g>
<g transform="translate(23.6,290.3) rotate(-90)"><g transform="translate(0.00,0.20) scale(12.500,12.500)" fill="none" stroke="#000" stroke-linecap="round" stroke-linejoin="round"><path d="M0.0,-0.62 C0.08,-0.86 0.19,-1.0 0.31,-1.0 C0.41,-1.0 0.44,-0.93 0.42,-0.82 M0.35,-0.52 C0.45,-0.82 0.57,-1.0 0.73,-1.0 C0.91,-1.0 0.97,-0.93 0.96,-0.82 M0.91,-0.52 C1.01,-0.82 1.13,-1.0 1.29,-1.0 C1.47,-1.0 1.53,-0.93 1.52,-0.82 M1.44,-0.38 C1.41,-0.16 1.43,-0.03 1.53,-0.03 C1.64,-0.03 1.75,-0.12 1.82,-0.27" stroke-width="0.0800"/><path d="M0.42,-0.82 L0.17,0 M0.96,-0.82 L0.77,0 M1.52,-0.82 L1.44,-0.38" stroke-width="0.1440"/></g><path d="M4.2,-17.6 C5.6,-19.8 7.2,-20.4 9.2,-19.4 L12.8,-17.8 C14.8,-17.0 16.9,-17.6 18.8,-20.2" fill="none" stroke="#000" stroke-width="1.3"/><g transform="translate(24.00,3.70) scale(8.774,8.200)" fill="none" stroke="#000" stroke-linecap="round" stroke-linejoin="round"><path d="M0.0,-0.62 C0.08,-0.86 0.19,-1.0 0.31,-1.0 C0.41,-1.0 0.44,-0.93 0.42,-0.82 M0.35,-0.52 C0.45,-0.82 0.57,-1.0 0.73,-1.0 C0.91,-1.0 0.97,-0.93 0.96,-0.82 M0.91,-0.52 C1.01,-0.82 1.13,-1.0 1.29,-1.0 C1.47,-1.0 1.53,-0.93 1.52,-0.82 M1.44,-0.38 C1.41,-0.16 1.43,-0.03 1.53,-0.03 C1.64,-0.03 1.75,-0.12 1.82,-0.27" stroke-width="0.1037"/><path d="M0.42,-0.82 L0.17,0 M0.96,-0.82 L0.77,0 M1.52,-0.82 L1.44,-0.38" stroke-width="0.1707"/></g><g transform="translate(41.80,3.70) scale(8.200,8.200)" fill="none" stroke="#000" stroke-linecap="round" stroke-linejoin="round"><path d="M0.86,-0.78 C0.80,-0.94 0.68,-1.0 0.56,-1.0 C0.30,-1.0 0.06,-0.68 0.06,-0.36 C0.06,-0.13 0.18,-0.01 0.34,-0.01 C0.52,-0.01 0.68,-0.2 0.77,-0.42 M0.72,0.15 C0.66,0.36 0.50,0.47 0.30,0.47 C0.18,0.47 0.10,0.44 0.06,0.38" stroke-width="0.1037"/><path d="M0.99,-0.93 L0.72,0.15" stroke-width="0.1707"/><circle cx="0.09" cy="0.36" r="0.10" fill="#000" stroke="none"/></g><circle cx="56.1" cy="-1.1" r="1.25" fill="#000"/><path d="M56.9,-1.0 C56.9,1.2 56.2,2.9 54.9,4.1" fill="none" stroke="#000" stroke-width="0.8"/><g transform="translate(65.30,0.20) scale(12.500,12.500)" fill="none" stroke="#000" stroke-linecap="round" stroke-linejoin="round"><path d="M0.0,-0.62 C0.08,-0.86 0.19,-1.0 0.31,-1.0 C0.41,-1.0 0.44,-0.93 0.42,-0.82 M0.35,-0.52 C0.45,-0.82 0.57,-1.0 0.73,-1.0 C0.91,-1.0 0.97,-0.93 0.96,-0.82 M0.91,-0.52 C1.01,-0.82 1.13,-1.0 1.29,-1.0 C1.47,-1.0 1.53,-0.93 1.52,-0.82 M1.44,-0.38 C1.41,-0.16 1.43,-0.03 1.53,-0.03 C1.64,-0.03 1.75,-0.12 1.82,-0.27" stroke-width="0.0800"/><path d="M0.42,-0.82 L0.17,0 M0.96,-0.82 L0.77,0 M1.52,-0.82 L1.44,-0.38" stroke-width="0.1440"/></g><path d="M70.2,-16.4 L77.6,-20.6 L85.0,-16.4" fill="none" stroke="#000" stroke-width="1.2"/><g transform="translate(89.30,3.70) scale(8.774,8.200)" fill="none" stroke="#000" stroke-linecap="round" stroke-linejoin="round"><path d="M0.0,-0.62 C0.08,-0.86 0.19,-1.0 0.31,-1.0 C0.41,-1.0 0.44,-0.93 0.42,-0.82 M0.35,-0.52 C0.45,-0.82 0.57,-1.0 0.73,-1.0 C0.91,-1.0 0.97,-0.93 0.96,-0.82 M0.91,-0.52 C1.01,-0.82 1.13,-1.0 1.29,-1.0 C1.47,-1.0 1.53,-0.93 1.52,-0.82 M1.44,-0.38 C1.41,-0.16 1.43,-0.03 1.53,-0.03 C1.64,-0.03 1.75,-0.12 1.82,-0.27" stroke-width="0.1037"/><path d="M0.42,-0.82 L0.17,0 M0.96,-0.82 L0.77,0 M1.52,-0.82 L1.44,-0.38" stroke-width="0.1707"/></g><g transform="translate(107.10,3.70) scale(8.200,8.200)" fill="none" stroke="#000" stroke-linecap="round" stroke-linejoin="round"><path d="M0.86,-0.78 C0.80,-0.94 0.68,-1.0 0.56,-1.0 C0.30,-1.0 0.06,-0.68 0.06,-0.36 C0.06,-0.13 0.18,-0.01 0.34,-0.01 C0.52,-0.01 0.68,-0.2 0.77,-0.42 M0.72,0.15 C0.66,0.36 0.50,0.47 0.30,0.47 C0.18,0.47 0.10,0.44 0.06,0.38" stroke-width="0.1037"/><path d="M0.99,-0.93 L0.72,0.15" stroke-width="0.1707"/><circle cx="0.09" cy="0.36" r="0.10" fill="#000" stroke="none"/></g></g>
</g>
</g>
</svg>
</div>
</body></html>
